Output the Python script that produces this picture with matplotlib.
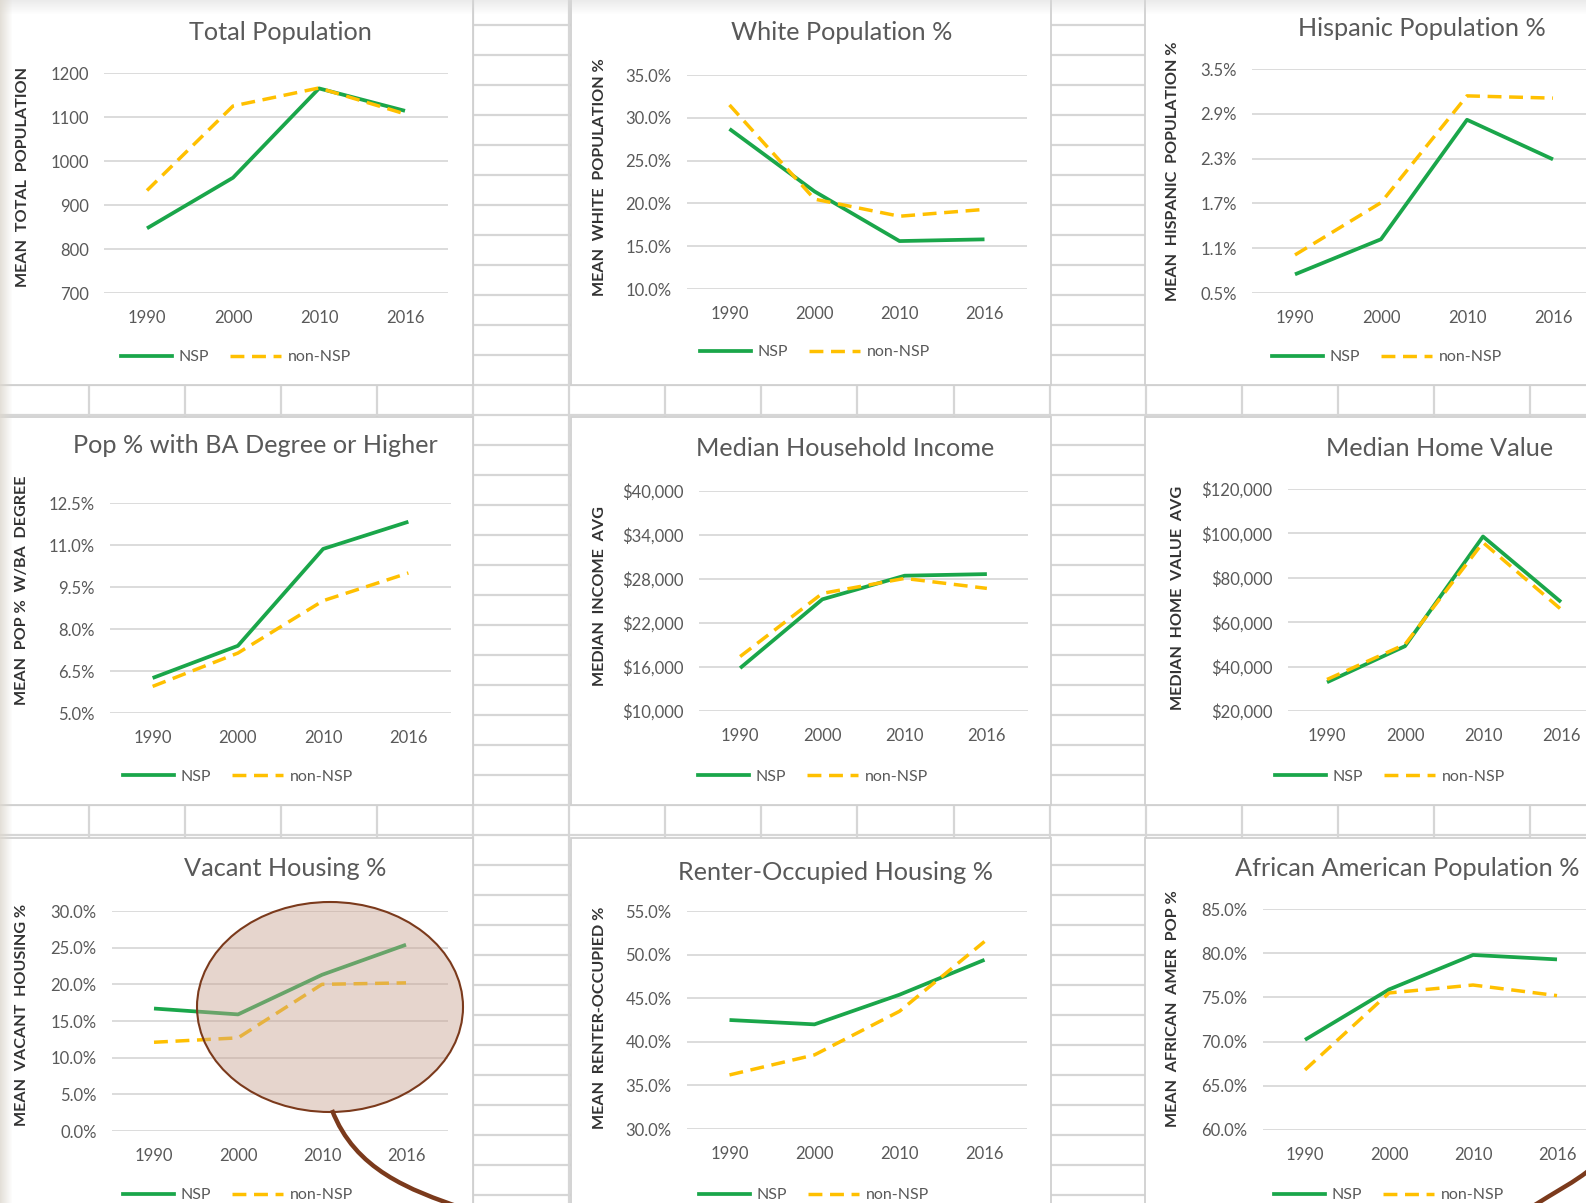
import matplotlib
matplotlib.use("Agg")
import matplotlib.pyplot as plt
from matplotlib.patches import Rectangle, Ellipse, PathPatch
from matplotlib.path import Path
from matplotlib.lines import Line2D
from matplotlib.ticker import FuncFormatter, FixedLocator

# ---------------- data ----------------
years = ["1990", "2000", "2010", "2016"]
series_names = ["NSP", "non-NSP"]

titles = ["Total Population", "White Population %", "Hispanic Population %",
          "Pop % with BA Degree or Higher", "Median Household Income", "Median Home Value",
          "Vacant Housing %", "Renter-Occupied Housing %", "African American Population %"]
ylabels = ["MEAN  TOTAL  POPULATION", "MEAN  WHITE  POPULATION %", "MEAN  HISPANIC  POPULATION %",
           "MEAN  POP %  W/BA  DEGREE", "MEDIAN  INCOME  AVG", "MEDIAN  HOME  VALUE  AVG",
           "MEAN  VACANT  HOUSING %", "MEAN  RENTER-OCCUPIED %", "MEAN  AFRICAN  AMER  POP %"]

nsp_total = [847, 962, 1165, 1114]
non_total = [933, 1125, 1166, 1107]
nsp_white = [28.7, 21.4, 15.6, 15.8]
non_white = [31.5, 20.5, 18.5, 19.3]
nsp_hisp = [0.75, 1.22, 2.82, 2.29]
non_hisp = [1.01, 1.71, 3.14, 3.11]
nsp_ba = [6.25, 7.4, 10.86, 11.83]
non_ba = [5.95, 7.14, 9.01, 10.0]
nsp_income = [15850, 25230, 28450, 28670]
non_income = [17430, 26040, 28080, 26720]
nsp_home = [32950, 49200, 98600, 69100]
non_home = [34200, 50000, 95900, 65800]
nsp_vacant = [16.7, 15.9, 21.3, 25.4]
non_vacant = [12.1, 12.7, 20.0, 20.2]
nsp_renter = [42.5, 42.0, 45.4, 49.4]
non_renter = [36.2, 38.5, 43.5, 51.5]
nsp_afam = [70.2, 75.9, 79.8, 79.3]
non_afam = [66.8, 75.5, 76.4, 75.2]

ticks_total = [700, 800, 900, 1000, 1100, 1200]
ticks_white = [10, 15, 20, 25, 30, 35]
ticks_hisp = [0.5, 1.1, 1.7, 2.3, 2.9, 3.5]
ticks_ba = [5.0, 6.5, 8.0, 9.5, 11.0, 12.5]
ticks_income = [10000, 16000, 22000, 28000, 34000, 40000]
ticks_home = [20000, 40000, 60000, 80000, 100000, 120000]
ticks_vacant = [0, 5, 10, 15, 20, 25, 30]
ticks_renter = [30, 35, 40, 45, 50, 55]
ticks_afam = [60, 65, 70, 75, 80, 85]

nsp_all = [nsp_total, nsp_white, nsp_hisp, nsp_ba, nsp_income, nsp_home, nsp_vacant, nsp_renter, nsp_afam]
non_all = [non_total, non_white, non_hisp, non_ba, non_income, non_home, non_vacant, non_renter, non_afam]
ticks_all = [ticks_total, ticks_white, ticks_hisp, ticks_ba, ticks_income, ticks_home, ticks_vacant, ticks_renter, ticks_afam]
fmt_all = ["int", "pct", "pct", "pct", "dollar", "dollar", "pct", "pct", "pct"]

# ---------------- layout (pixels) ----------------
W, H = 1586, 1203
FONT = ["Lato", "DejaVu Sans"]
plt.rcParams['font.family'] = FONT

def fx(x):
    return x / W

def fy(y):
    return 1 - y / H

# plot areas: left, top, right, bottom
plot_boxes = [(104, 73, 448, 293), (687, 75, 1027, 289), (1252, 69, 1596, 293),
              (110, 503, 451, 713), (699, 491, 1028, 711), (1288, 489, 1600, 711),
              (112, 911, 448, 1131), (687, 911, 1027, 1129), (1263, 909, 1599, 1130)]
title_pos = [(280, 32), (842, 32), (1422, 29), (255, 446), (845, 449), (1440, 449),
             (285, 869), (835, 872), (1407, 869)]
ylabel_pos = [(23, 177), (600, 177), (1173, 171), (22, 590), (600, 596), (1178, 598),
              (22, 1015), (600, 1018), (1173, 1009)]
legend_pos = [(236, 357), (815, 352), (1387, 357), (238, 777), (813, 777), (1390, 777),
              (238, 1195), (814, 1195), (1389, 1195)]
col_x = [(-5, 473), (571, 1051), (1145, 1600)]
row_y = [(-5, 385), (417, 805), (838, 1212)]

GREEN = "#1aa64a"
GOLD = "#ffc000"
TXT = "#595959"
GRID = "#d9d9d9"

fig = plt.figure(figsize=(W / 100, H / 100), dpi=100)
fig.patch.set_facecolor("white")

# background spreadsheet
bg = fig.add_axes([0, 0, 1, 1], zorder=0)
bg.set_xlim(0, W)
bg.set_ylim(H, 0)
bg.axis("off")
cell_w = 96.05
cell_h = 30.0
for k in range(1, 18):
    x = -7 + cell_w * k
    bg.plot([x, x], [0, H], color="#d6d6d6", lw=1.6, zorder=1)
for k in range(0, 40):
    y = 25 + cell_h * k
    bg.plot([0, W], [y, y], color="#d6d6d6", lw=1.6, zorder=1)
for (x0, x1) in col_x:
    for (y0, y1) in row_y:
        bg.add_patch(Rectangle((x0, y0), x1 - x0, y1 - y0, facecolor="white",
                               edgecolor="#d0d0d0", lw=1.3, zorder=2))
# faded top strip and left paper edge
for i in range(14):
    bg.add_patch(Rectangle((0, i), W, 1, facecolor="#d8d8d8", alpha=0.5 * (1 - i / 14),
                           edgecolor="none", zorder=3))
for i in range(12):
    bg.add_patch(Rectangle((i, 0), 1, H, facecolor="#ddd8cf", alpha=0.8 * (1 - i / 12),
                           edgecolor="none", zorder=3))


def make_fmt(kind):
    if kind == "int":
        return FuncFormatter(lambda v, p: f"{v:.0f}")
    if kind == "pct":
        return FuncFormatter(lambda v, p: f"{v:.1f}%")
    return FuncFormatter(lambda v, p: f"${v:,.0f}")


xs = list(range(len(years)))
for i in range(9):
    l, t, r, b = plot_boxes[i]
    ax = fig.add_axes([fx(l), fy(b), (r - l) / W, (b - t) / H], zorder=5)
    ax.patch.set_alpha(0)
    ticks = ticks_all[i]
    ax.set_xlim(-0.5, len(years) - 0.5)
    ax.set_ylim(ticks[0], ticks[-1])
    ax.yaxis.set_major_locator(FixedLocator(ticks))
    ax.yaxis.set_major_formatter(make_fmt(fmt_all[i]))
    ax.set_xticks(xs)
    ax.set_xticklabels(years)
    ax.tick_params(axis="both", length=0, labelsize=12, labelcolor=TXT)
    ax.tick_params(axis="y", pad=11)
    ax.tick_params(axis="x", pad=12)
    for s in ax.spines.values():
        s.set_visible(False)
    ax.yaxis.grid(True, color=GRID, lw=1.3)
    ax.set_axisbelow(True)
    for lab in ax.get_xticklabels() + ax.get_yticklabels():
        lab.set_clip_on(False)
    ax.plot(xs, nsp_all[i], color=GREEN, lw=2.7, solid_capstyle="butt", clip_on=False, zorder=3)
    ax.plot(xs, non_all[i], color=GOLD, lw=2.5, dashes=(4, 2.2), clip_on=False, zorder=3)

    tx, ty = title_pos[i]
    fig.text(fx(tx), fy(ty), titles[i], ha="center", va="center", fontsize=18.2, color=TXT)
    lx, ly = ylabel_pos[i]
    fig.text(fx(lx), fy(ly), ylabels[i], ha="center", va="center", rotation=90,
             fontsize=11.6, fontweight="bold", color="#333333")
    hx, hy = legend_pos[i]
    handles = [Line2D([], [], color=GREEN, lw=2.7),
               Line2D([], [], color=GOLD, lw=2.5, dashes=(4, 2.2))]
    leg = ax.legend(handles, series_names, loc="center", bbox_to_anchor=(fx(hx), fy(hy)),
                    bbox_transform=fig.transFigure, ncol=2, frameon=False, fontsize=11.5,
                    handlelength=3.2, handletextpad=0.4, columnspacing=1.3,
                    labelcolor=TXT, borderaxespad=0, borderpad=0)

# overlay: highlight ellipse and arrow
ov = fig.add_axes([0, 0, 1, 1], zorder=20)
ov.set_xlim(0, W)
ov.set_ylim(H, 0)
ov.axis("off")
ov.patch.set_alpha(0)
ov.add_patch(Ellipse((330, 1007), 266, 210, facecolor="#c9a290", alpha=0.45,
                     edgecolor="none", zorder=2))
ov.add_patch(Ellipse((330, 1007), 266, 210, facecolor="none",
                     edgecolor="#7b3a1c", lw=1.5, zorder=3))
BROWN = "#7b3a1c"
p1 = Path([(332, 1110), (355, 1170), (410, 1190), (462, 1208)],
          [Path.MOVETO, Path.CURVE4, Path.CURVE4, Path.CURVE4])
ov.add_patch(PathPatch(p1, facecolor="none", edgecolor=BROWN, lw=3.2, zorder=4))
p2 = Path([(1530, 1208), (1555, 1192), (1575, 1182), (1592, 1168)],
          [Path.MOVETO, Path.CURVE4, Path.CURVE4, Path.CURVE4])
ov.add_patch(PathPatch(p2, facecolor="none", edgecolor=BROWN, lw=3.2, zorder=4))

fig.savefig("out.png", dpi=100)
